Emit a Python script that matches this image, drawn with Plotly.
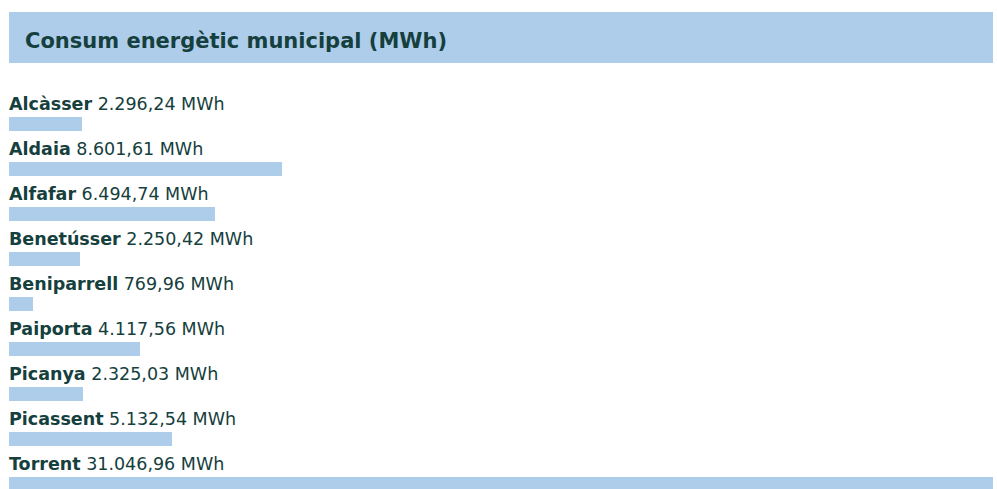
import plotly.graph_objects as go

municipis = ["Alcàsser", "Aldaia", "Alfafar", "Benetússer", "Beniparrell",
             "Paiporta", "Picanya", "Picassent", "Torrent"]
valors = [2296.24, 8601.61, 6494.74, 2250.42, 769.96,
          4117.56, 2325.03, 5132.54, 31046.96]
etiquetes_valor = ["2.296,24", "8.601,61", "6.494,74", "2.250,42", "769,96",
                   "4.117,56", "2.325,03", "5.132,54", "31.046,96"]
titol = "Consum energètic municipal (MWh)"

BAR = "#aecdea"
TXT = "#15403d"
FONT = "DejaVu Sans, sans-serif"
W, H = 997, 489

idx = list(range(len(municipis)))

fig = go.Figure()
fig.add_trace(go.Bar(
    x=valors, y=idx, orientation="h", width=14 / 45,
    marker=dict(color=BAR, line=dict(width=0)),
    hoverinfo="skip", showlegend=False,
))

for i, (m, v) in enumerate(zip(municipis, etiquetes_valor)):
    fig.add_annotation(
        x=0, xref="paper", y=i, yref="y", yshift=20.5, xshift=-2,
        xanchor="left", yanchor="middle", showarrow=False,
        text=f"<b>{m}</b> {v} MWh",
        font=dict(family=FONT, size=17.5, color=TXT),
    )

# title band
fig.add_shape(type="rect", xref="paper", yref="paper",
              x0=0, x1=1, y0=1 - 63 / H, y1=1 - 12 / H,
              fillcolor=BAR, line=dict(width=0), layer="below")
fig.add_annotation(
    x=(25 - 9) / 984, xref="paper", y=1 - 41 / H, yref="paper", xshift=-2,
    xanchor="left", yanchor="middle", showarrow=False,
    text=f"<b>{titol}</b>",
    font=dict(family=FONT, size=21, color=TXT),
)

top = -124 / 45
bot = (H - 124) / 45
fig.update_layout(
    width=W, height=H,
    margin=dict(l=9, r=4, t=0, b=0),
    paper_bgcolor="white", plot_bgcolor="white",
    xaxis=dict(range=[0, max(valors)], visible=False, fixedrange=True),
    yaxis=dict(range=[bot, top], visible=False, fixedrange=True),
    bargap=0,
)
fig.write_html("out.html", config={"displayModeBar": False},
               post_script="document.body.style.margin='0';")
